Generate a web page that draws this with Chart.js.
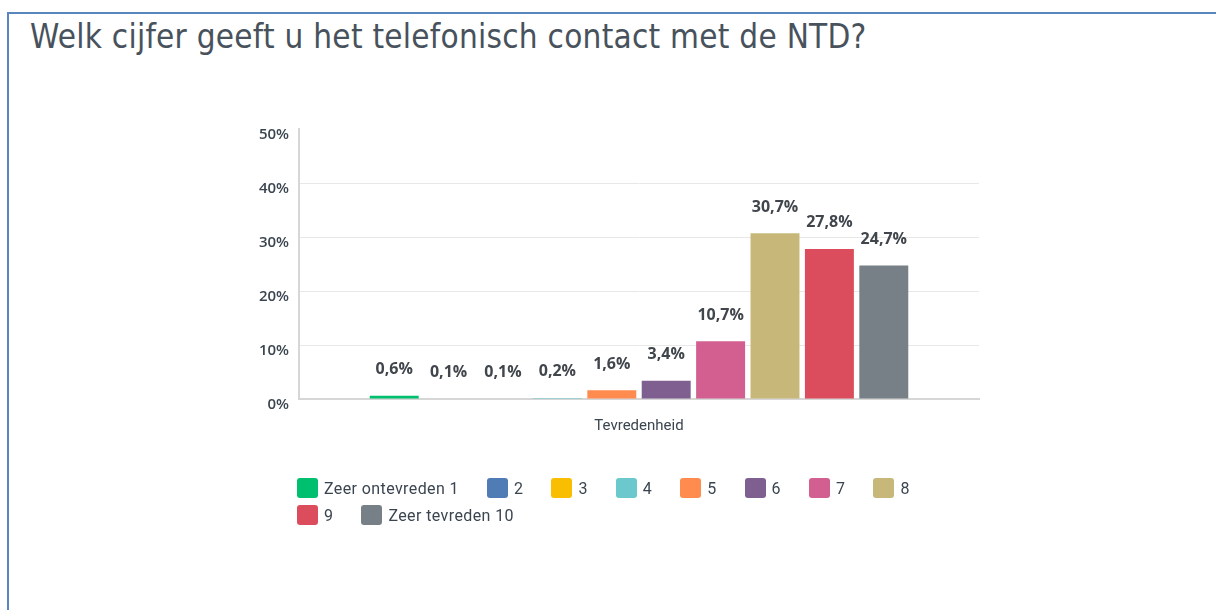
<!DOCTYPE html>
<html>
<head>
<meta charset="utf-8">
<script src="https://cdn.jsdelivr.net/npm/chart.js@4.4.1/dist/chart.umd.min.js"></script>
<style>
  html, body { margin: 0; padding: 0; background: #fff; width: 1216px; height: 610px; overflow: hidden; }
  #frame { position: absolute; left: 7px; top: 12px; width: 1230px; height: 620px; border-left: 2px solid #5a86bf; border-top: 2px solid #5a86bf; box-sizing: border-box; }
  #title { position: absolute; left: 30px; top: 17px; font-family: "Liberation Sans Narrow", "DejaVu Sans Condensed", sans-serif; font-size: 33px; line-height: 40px; color: #48525c; white-space: nowrap; letter-spacing: 0.25px; }
  #chart { position: absolute; left: 0; top: 0; }
  #legend { position: absolute; left: 297px; top: 478px; width: 680px; display: flex; flex-wrap: wrap; font-family: Roboto, "Noto Sans", sans-serif; font-size: 16px; letter-spacing: 0.4px; color: #3b4550; }
  .item { display: flex; align-items: center; height: 20px; margin: 0 28px 7px 0; }
  .box { width: 21px; height: 20px; border-radius: 3px; margin-right: 6px; }
</style>
</head>
<body>
<div id="frame"></div>
<div id="title">Welk cijfer geeft u het telefonisch contact met de NTD?</div>
<canvas id="chart" width="1216" height="610"></canvas>
<div id="legend"></div>
<script>
const categories = ['Tevredenheid'];
const seriesNames = ['Zeer ontevreden 1', '2', '3', '4', '5', '6', '7', '8', '9', 'Zeer tevreden 10'];
const seriesValues = [0.6, 0.1, 0.1, 0.2, 1.6, 3.4, 10.7, 30.7, 27.8, 24.7];
const seriesColors = ['#00BF6F', '#507CB6', '#F9BE00', '#6BC8CD', '#FF8B4F', '#7F5F90', '#D25F90', '#C7B879', '#DB4D5C', '#768086'];
const yTicks = [0, 10, 20, 30, 40, 50];

const fmt = v => v.toFixed(1).replace('.', ',') + '%';

const datasets = seriesNames.map((name, i) => ({
  label: name,
  data: [seriesValues[i]],
  backgroundColor: seriesColors[i],
  borderWidth: 0,
  categoryPercentage: 0.8,
  barPercentage: 0.9
}));

const valueLabels = {
  id: 'valueLabels',
  afterDatasetsDraw(chart) {
    const ctx = chart.ctx;
    ctx.save();
    ctx.font = '700 16px "Open Sans", sans-serif';
    ctx.fillStyle = '#40464c';
    ctx.textAlign = 'center';
    ctx.textBaseline = 'middle';
    chart.data.datasets.forEach((ds, i) => {
      const meta = chart.getDatasetMeta(i);
      meta.data.forEach((el, j) => {
        ctx.fillText(fmt(ds.data[j]), el.x, el.y - 26);
      });
    });
    ctx.restore();
  }
};

const htmlLegend = {
  id: 'htmlLegend',
  afterUpdate(chart) {
    const box = document.getElementById('legend');
    box.innerHTML = '';
    const items = chart.options.plugins.legend.labels.generateLabels(chart);
    items.forEach(it => {
      const d = document.createElement('div');
      d.className = 'item';
      const b = document.createElement('span');
      b.className = 'box';
      b.style.background = it.fillStyle;
      const t = document.createElement('span');
      t.textContent = it.text;
      d.appendChild(b); d.appendChild(t);
      box.appendChild(d);
    });
  }
};

new Chart(document.getElementById('chart'), {
  type: 'bar',
  data: { labels: categories, datasets },
  options: {
    responsive: false,
    animation: false,
    devicePixelRatio: 1,
    layout: { padding: { left: 249, right: 237, top: 129, bottom: 171 } },
    plugins: {
      legend: { display: false },
      tooltip: { enabled: false },
      title: { display: false }
    },
    scales: {
      x: {
        z: 1,
        grid: { display: false },
        border: { display: true, color: '#d6d6d6', width: 2 },
        ticks: { padding: 10, color: '#3b4550', font: { family: 'Roboto, sans-serif', size: 15 } },
        afterFit(s) { s.height = 40; }
      },
      y: {
        min: 0, max: 50,
        afterBuildTicks(s) { s.ticks = yTicks.map(v => ({ value: v })); },
        afterFit(s) { s.width = 50; },
        grid: {
          drawTicks: false,
          color: c => (c.tick && (c.tick.value === 0 || c.tick.value === 50)) ? 'rgba(0,0,0,0)' : '#e8e8e8',
          lineWidth: 1
        },
        border: { display: true, color: '#d6d6d6', width: 2 },
        ticks: {
          padding: 10,
          labelOffset: 6,
          color: '#3b4550',
          font: { family: '"Open Sans", sans-serif', size: 15, weight: '600' },
          callback: v => v + '%'
        }
      }
    }
  },
  plugins: [valueLabels, htmlLegend]
});
</script>
</body>
</html>
